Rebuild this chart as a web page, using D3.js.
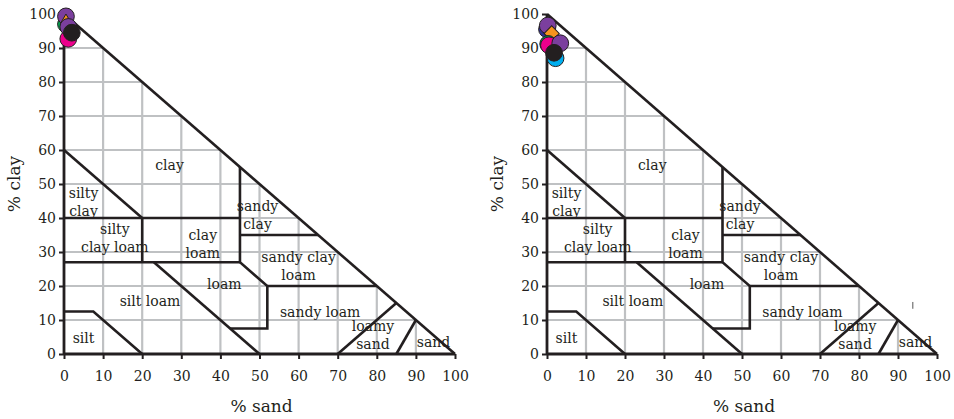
<!DOCTYPE html>
<html>
<head>
<meta charset="utf-8">
<script src="https://cdn.jsdelivr.net/npm/d3@7"></script>
<style>
  html, body { margin: 0; padding: 0; background: #fff; }
  svg { display: block; }
  text { font-family: "DejaVu Serif", "Liberation Serif", serif; fill: #231f20; }
</style>
</head>
<body>
<svg id="chart" width="954" height="419"></svg>
<script>
// ---------- DATA ----------
const tickValues = [0, 10, 20, 30, 40, 50, 60, 70, 80, 90, 100];
const gridValues = [10, 20, 30, 40, 50, 60, 70, 80, 90];
const xTitle = "% sand";
const yTitle = "% clay";

// USDA texture class boundaries as [sand, clay] polylines
const boundaries = [
  [[0, 100], [100, 0]],
  [[0, 60], [20, 40]],
  [[0, 40], [45, 40]],
  [[20, 40], [20, 27]],
  [[0, 27], [45, 27]],
  [[45, 55], [45, 27], [52, 20], [52, 7.5], [42.5, 7.5]],
  [[45, 35], [65, 35]],
  [[52, 20], [80, 20]],
  [[23, 27], [50, 0]],
  [[0, 12.5], [7.5, 12.5], [20, 0]],
  [[70, 0], [85, 15]],
  [[85, 0], [90, 10]]
];

// class labels: [text lines, sand, clay (top line)]
const classLabels = [
  { lines: ["clay"], sand: 27, clay: 55.5 },
  { lines: ["silty", "clay"], sand: 5, clay: 47.5 },
  { lines: ["silty", "clay loam"], sand: 13, clay: 36.8 },
  { lines: ["clay", "loam"], sand: 35.5, clay: 35 },
  { lines: ["sandy", "clay"], sand: 49.5, clay: 43.5 },
  { lines: ["sandy clay", "loam"], sand: 60, clay: 28.5 },
  { lines: ["loam"], sand: 41, clay: 20.5 },
  { lines: ["silt loam"], sand: 22, clay: 15.5 },
  { lines: ["sandy loam"], sand: 65.5, clay: 12.5 },
  { lines: ["loamy", "sand"], sand: 79, clay: 8.3 },
  { lines: ["sand"], sand: 94.5, clay: 3.6 },
  { lines: ["silt"], sand: 5, clay: 4.6 }
];

// sample points, left panel (draw order)
const leftSand  = [0.5, 0.5, 0.5, 1.1, 1.1, 2.0];
const leftClay  = [97.0, 99.3, 98.0, 92.7, 96.2, 94.5];
const leftColor = ["#00a651", "#7b3f9e", "#f7941d", "#ec008c", "#7b3f9e", "#231f20"];
const leftShape = ["circle", "circle", "triangle", "circle", "circle", "circle"];

// sample points, right panel (draw order)
const rightSand  = [0.0, 0.2, 1.2, 0.3, 0.5, 3.4, 2.2, 1.8];
const rightClay  = [95.5, 96.6, 94.3, 91.2, 90.8, 91.4, 87.0, 88.6];
const rightColor = ["#2e3192", "#7b3f9e", "#f7941d", "#00a651", "#ec008c", "#7b3f9e", "#00aeef", "#231f20"];
const rightShape = ["circle", "circle", "diamond", "circle", "circle", "circle", "circle", "circle"];

// stray small mark in right panel: [sand, clayLow, clayHigh]
const rightMark = [93.8, 13.3, 15.3];

// ---------- DRAW ----------
const svg = d3.select("#chart");

function panel(x0, x1, sand, clay, color, shape, mark) {
  const x = d3.scaleLinear().domain([0, 100]).range([x0, x1]);
  const y = d3.scaleLinear().domain([0, 100]).range([354, 14]);
  const g = svg.append("g");

  // grid (clipped to triangle)
  g.selectAll(".vg").data(gridValues).join("line")
    .attr("x1", d => x(d)).attr("x2", d => x(d))
    .attr("y1", y(0)).attr("y2", d => y(100 - d))
    .attr("stroke", "#bfc1c3").attr("stroke-width", 2.2);
  g.selectAll(".hg").data(gridValues).join("line")
    .attr("y1", d => y(d)).attr("y2", d => y(d))
    .attr("x1", x(0)).attr("x2", d => x(100 - d))
    .attr("stroke", "#bfc1c3").attr("stroke-width", 2.2);

  // axes
  const xAxis = d3.axisBottom(x).tickValues(tickValues).tickSize(5).tickPadding(12).tickFormat(d3.format("d"));
  const yAxis = d3.axisLeft(y).tickValues(tickValues).tickSize(5).tickPadding(3).tickFormat(d3.format("d"));
  const gx = g.append("g").attr("transform", `translate(0,${y(0)})`).call(xAxis);
  const gy = g.append("g").attr("transform", `translate(${x(0)},0)`).call(yAxis);
  [gx, gy].forEach(a => {
    a.select(".domain").attr("stroke", "#231f20").attr("stroke-width", 2.8);
    a.selectAll(".tick line").attr("stroke", "#231f20").attr("stroke-width", 2);
    a.selectAll(".tick text").style("font-family", '"DejaVu Serif", serif')
      .style("font-size", "14px").attr("fill", "#231f20");
  });
  gy.select(".domain").attr("d", `M0,${y(0)}V${y(100)}`);
  gx.select(".domain").attr("d", `M${x(0)},0H${x(100)}`);

  // boundaries
  const line = d3.line().x(d => x(d[0])).y(d => y(d[1]));
  g.selectAll(".bd").data(boundaries).join("path")
    .attr("d", line).attr("fill", "none")
    .attr("stroke", "#231f20").attr("stroke-width", 2.6)
    .attr("stroke-linejoin", "miter");

  // class labels
  classLabels.forEach(l => {
    const t = g.append("text")
      .attr("text-anchor", "middle")
      .style("font-size", "14px");
    l.lines.forEach((s, i) => {
      t.append("tspan").attr("x", x(l.sand)).attr("y", y(l.clay) + 5 + i * 18).text(s);
    });
  });

  // axis titles
  g.append("text").attr("x", (x(0) + x(100)) / 2 + 2).attr("y", 412)
    .attr("text-anchor", "middle").style("font-size", "17px").text(xTitle);
  g.append("text").attr("transform", `translate(${x0 - 44},${y(50)}) rotate(-90)`)
    .attr("text-anchor", "middle").style("font-size", "17px").text(yTitle);

  // stray mark
  if (mark) {
    g.append("line").attr("x1", x(mark[0])).attr("x2", x(mark[0]))
      .attr("y1", y(mark[1])).attr("y2", y(mark[2]))
      .attr("stroke", "#555").attr("stroke-width", 1);
  }

  // points
  const sym = { circle: d3.symbolCircle, triangle: d3.symbolTriangle, diamond: d3.symbolSquare };
  const size = { circle: 220, triangle: 60, diamond: 115 };
  sand.forEach((s, i) => {
    const p = g.append("path")
      .attr("d", d3.symbol(sym[shape[i]], size[shape[i]])())
      .attr("fill", color[i]).attr("stroke", "#231f20").attr("stroke-width", 1);
    const rot = shape[i] === "diamond" ? " rotate(45)" : "";
    p.attr("transform", `translate(${x(s)},${y(clay[i])})${rot}`);
  });
}

panel(64, 455, leftSand, leftClay, leftColor, leftShape, null);
panel(547, 937, rightSand, rightClay, rightColor, rightShape, rightMark);
</script>
</body>
</html>
